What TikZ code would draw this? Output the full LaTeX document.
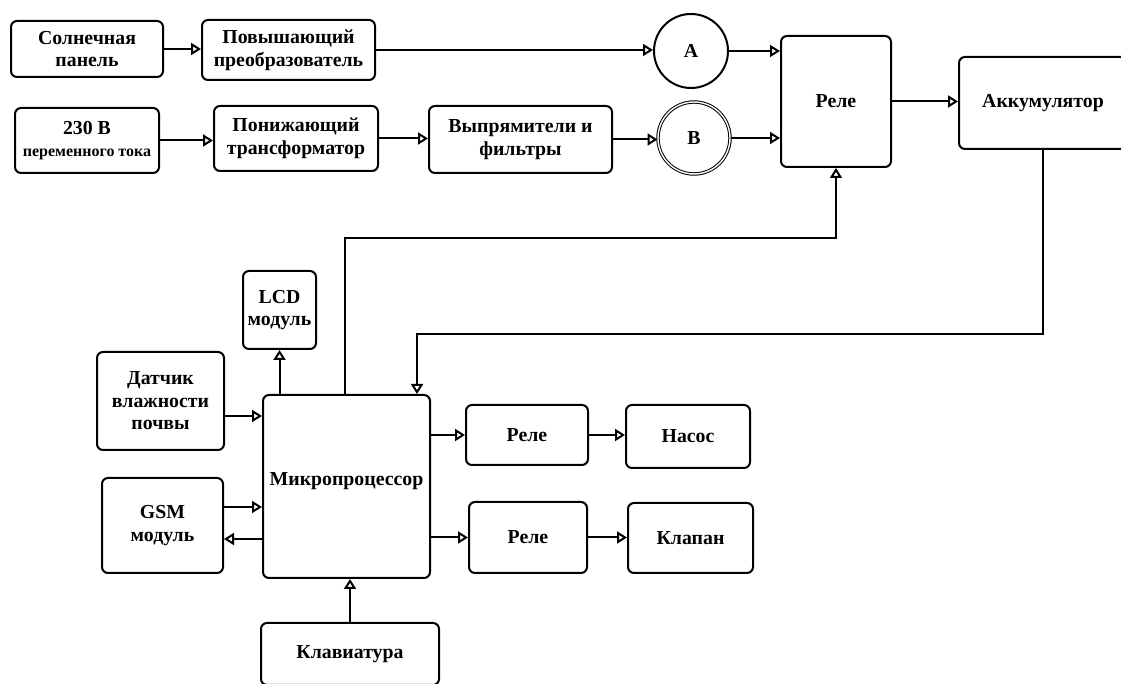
\documentclass[tikz,border=0pt]{standalone}
\usepackage{fontspec}
\setmainfont{Liberation Serif}
\usetikzlibrary{arrows.meta}
\usetikzlibrary{calc}

\begin{document}
\begin{tikzpicture}
		[
		x=0.5pt, y=-0.5pt,
		font=\fontsize{9.9}{11.3}\selectfont\bfseries,
		line width=1pt
		]
		
		% Styles: blocks, circles and arrows
		\tikzstyle{blk}=[draw,rounded corners=3pt,align=center,inner sep=1pt];
		\tikzstyle{meter}=[draw,circle,inner sep=0pt,minimum size=37pt];
		\tikzstyle{arr}=[-{Triangle[open,length=5pt,width=6pt]}];
		
		\useasboundingbox (0,0) rectangle (1121,684);
		
		% Power supply part
		\node[blk,minimum width=76pt,minimum height=28pt](sun) at (87,49){Солнечная\\панель};
		\node[blk,minimum width=86.5pt,minimum height=30pt](boost) at (288.5,50){Повышающий\\преобразователь};
		\node[blk,minimum width=72pt,minimum height=32.5pt](ac) at (87,140.5){230 В\\{\fontsize{8}{10}\selectfont переменного тока}};
		\node[blk,minimum width=82pt,minimum height=32.5pt](trafo) at (296,138.5){Понижающий\\трансформатор};
		\node[blk,minimum width=91.5pt,minimum height=33.5pt](rect) at (520.5,139.5){Выпрямители и\\фильтры};
		\node[meter](A) at (691,51){A};
		\node[meter,line width=0.5pt,double,double distance=0.7pt,minimum size=36pt](B) at (694,138){B};
		\node[blk,minimum width=55pt,minimum height=65.5pt](relay) at (836,101.5){Реле};
		\node[blk,minimum width=84pt,minimum height=46pt](batt) at (1043,103){Аккумулятор};
		
		% Control part
		\node[blk,minimum width=36.5pt,minimum height=39pt](lcd) at (279.5,310){LCD\\модуль};
		\node[blk,minimum width=63.5pt,minimum height=49pt](sensor) at (160.5,401){Датчик\\влажности\\почвы};
		\node[blk,minimum width=60.5pt,minimum height=47.5pt](gsm) at (162.5,525.5){GSM\\модуль};
		\node[blk,minimum width=83.5pt,minimum height=91.5pt](mcu) at (346.5,486.5){Микропроцессор\\[-4pt]};
		\node[blk,minimum width=61pt,minimum height=30pt](relayA) at (527,435){Реле};
		\node[blk,minimum width=62pt,minimum height=31.5pt](pump) at (688,436.5){Насос};
		\node[blk,minimum width=59pt,minimum height=35.5pt](relayB) at (528,537.5){Реле};
		\node[blk,minimum width=62.5pt,minimum height=35pt](valve) at (690.5,538){Клапан};
		\node[blk,minimum width=89pt,minimum height=31pt](kbd) at (350,654){Клавиатура};
		
		% Bends of the long lines
		\coordinate (fb) at (417,334);
		\coordinate (cb) at (345,238);
		
		% Connections, power supply
		\draw[arr](sun)--(sun-|boost.west);
		\draw[arr](boost.east)--(boost.east-|A.west);
		\draw[arr](ac)--(ac-|trafo.west);
		\draw[arr](trafo)--(trafo-|rect.west);
		\draw[arr](rect)--(rect-|B.west);
		\draw[arr](A)--(A-|relay.west);
		\draw[arr](B)--(B-|relay.west);
		\draw[arr](relay)--(relay-|batt.west);
		\draw[arr](batt.south)|-(fb)--(fb|-mcu.north);
		\draw[arr](mcu.north-|cb)--(cb)-|(relay.south);
		
		% Connections, control
		\draw[arr](mcu.north-|lcd)--(lcd.south);
		\draw[arr]([yshift=-7.5pt]sensor.east)--([yshift=-7.5pt]sensor.east-|mcu.west);
		\draw[arr]([yshift=9.25pt]gsm.east)--([yshift=9.25pt]gsm.east-|mcu.west);
		\draw[arr]([yshift=-6.75pt]gsm.east-|mcu.west)--([yshift=-6.75pt]gsm.east);
		\draw[arr](mcu.east|-relayA)--(relayA.west);
		\draw[arr](mcu.east|-relayB)--(relayB.west);
		\draw[arr](relayA)--(relayA-|pump.west);
		\draw[arr](relayB)--(relayB-|valve.west);
		\draw[arr](kbd.north)--(kbd.north|-mcu.south);
		
\end{tikzpicture}
\end{document}
